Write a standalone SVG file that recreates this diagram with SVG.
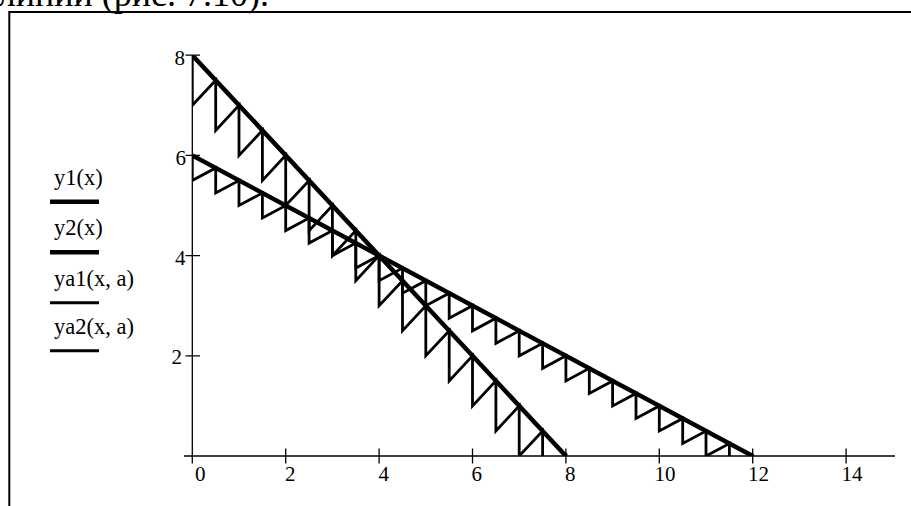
<svg xmlns="http://www.w3.org/2000/svg" width="911" height="506" viewBox="0 0 911 506">
<style>
.t{font-family:"Liberation Serif","Times New Roman",serif;fill:#000}
.ax{stroke:#000;stroke-width:1.3;fill:none}
.main{stroke:#000;stroke-width:4.5;fill:none;stroke-linejoin:miter}
.hat{stroke:#000;stroke-width:2.8;fill:none;stroke-linejoin:miter}
.frame{stroke:#000;stroke-width:2;fill:none}
.lg{font-size:22.5px}
</style>
<defs>
<clipPath id="plot"><rect x="192.3" y="55.2" width="710" height="400.8"/></clipPath>
</defs>
<rect width="911" height="506" fill="#fff"/>
<text class="t" x="269" y="6" font-size="36" text-anchor="end">линии (рис. 7.10).</text>
<g id="frame"><polyline class="frame" points="9.3,506 9.3,12 911,12"/></g>
<g id="axes">
<line class="ax" x1="184" y1="456" x2="895" y2="456"/>
<line class="ax" x1="192.3" y1="55.2" x2="192.3" y2="463.5"/>
<path class="ax" d="M185.5,55.2H200M185.5,155.4H200M185.5,255.6H200M185.5,355.8H200M285.7,448.5V463.5M379.1,448.5V463.5M472.5,448.5V463.5M565.9,448.5V463.5M659.3,448.5V463.5M752.7,448.5V463.5M846.1,448.5V463.5"/>
<g class="t" font-size="21" text-anchor="end">
<text x="185" y="65">8</text>
<text x="186" y="165">6</text>
<text x="185.5" y="265">4</text>
<text x="182" y="364">2</text>
</g>
<g class="t" font-size="21">
<text x="195" y="481">0</text>
<text x="285" y="481">2</text>
<text x="378.5" y="481">4</text>
<text x="471.5" y="481">6</text>
<text x="565" y="481">8</text>
<text x="654.5" y="481">10</text>
<text x="748" y="481">12</text>
<text x="841.5" y="481">14</text>
</g>
</g>
<g id="legend">
<text class="t lg" x="54" y="184.5">y1(x)</text>
<line x1="50" y1="201.7" x2="99" y2="201.7" stroke="#000" stroke-width="4.5"/>
<text class="t lg" x="54" y="235">y2(x)</text>
<line x1="50" y1="252.3" x2="99" y2="252.3" stroke="#000" stroke-width="4.5"/>
<text class="t lg" x="54" y="285.5">ya1(x, a)</text>
<line x1="50" y1="302.7" x2="99" y2="302.7" stroke="#000" stroke-width="3"/>
<text class="t lg" x="54" y="333.5">ya2(x, a)</text>
<line x1="50" y1="350.7" x2="99" y2="350.7" stroke="#000" stroke-width="3"/>
</g>
<g id="connectors" clip-path="url(#plot)">
<line id="y1" class="main" x1="192.3" y1="55.2" x2="565.9" y2="456"/>
<line id="y2" class="main" x1="192.3" y1="155.4" x2="752.7" y2="456"/>
<polyline id="ya1" class="hat" points="192.3,55.2 192.3,105.3 215.7,80.3 215.7,130.4 239,105.3 239,155.4 262.4,130.4 262.4,180.5 285.7,155.4 285.7,205.5 309.1,180.5 309.1,230.6 332.4,205.5 332.4,255.6 355.8,230.6 355.8,280.7 379.1,255.6 379.1,305.7 402.5,280.7 402.5,330.8 425.8,305.7 425.8,355.8 449.2,330.8 449.2,380.9 472.5,355.8 472.5,405.9 495.9,380.9 495.9,431 519.2,405.9 519.2,456 542.6,431 542.6,481.1 565.9,456 565.9,506.1"/>
<polyline id="ya2" class="hat" points="192.3,155.4 192.3,180.5 215.7,167.9 215.7,193 239,180.5 239,205.5 262.4,193 262.4,218 285.7,205.5 285.7,230.6 309.1,218 309.1,243.1 332.4,230.6 332.4,255.6 355.8,243.1 355.8,268.1 379.1,255.6 379.1,280.7 402.5,268.1 402.5,293.2 425.8,280.7 425.8,305.7 449.2,293.2 449.2,318.2 472.5,305.7 472.5,330.8 495.9,318.2 495.9,343.3 519.2,330.8 519.2,355.8 542.6,343.3 542.6,368.3 565.9,355.8 565.9,380.9 589.3,368.3 589.3,393.4 612.6,380.9 612.6,405.9 636,393.4 636,418.4 659.3,405.9 659.3,431 682.7,418.4 682.7,443.5 706,431 706,456 729.4,443.5 729.4,468.5 752.7,456 752.7,481.1"/>
</g>
</svg>
